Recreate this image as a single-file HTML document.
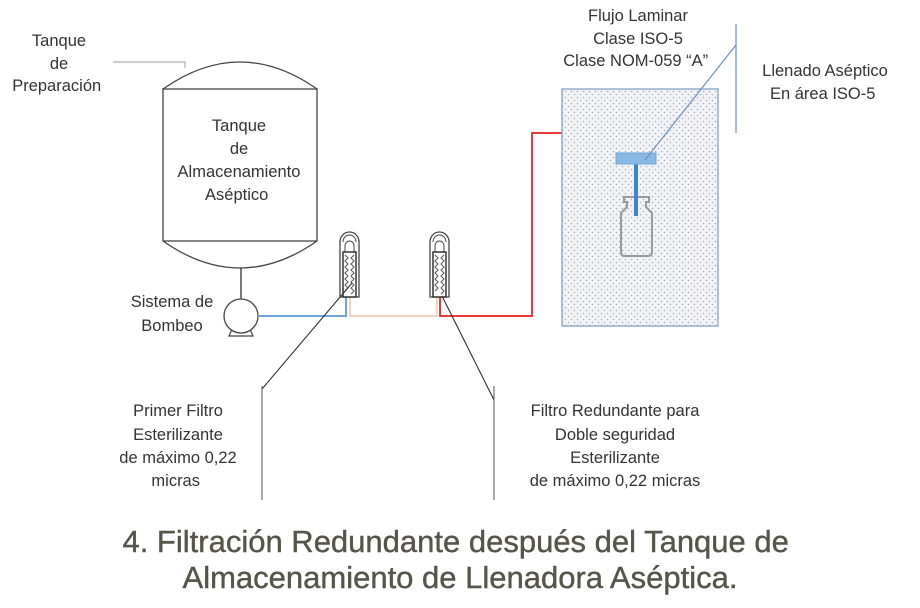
<!DOCTYPE html>
<html><head><meta charset="utf-8"><style>
body{margin:0;background:#fff;}
svg{display:block;}
text{font-family:"Liberation Sans",sans-serif;}
</style></head><body>
<svg width="920" height="608" viewBox="0 0 920 608" xmlns="http://www.w3.org/2000/svg">
<defs>
<pattern id="dots" width="6" height="6" patternUnits="userSpaceOnUse">
<rect width="6" height="6" fill="#f1f3f6"/>
<circle cx="1.5" cy="1.5" r="0.8" fill="#a9aeb8"/>
<circle cx="4.5" cy="4.5" r="0.8" fill="#a9aeb8"/>
</pattern>
<g id="filt">
<path d="M0,67 V12 A9.5,10 0 0 1 19,12 V67 Z" fill="#fff" stroke="#444" stroke-width="1.3"/>
<path d="M3,12 A6.5,7 0 0 1 16,12" fill="none" stroke="#444" stroke-width="1"/>
<path d="M5,22 V16 A4.5,5 0 0 1 14,16 V22" fill="none" stroke="#444" stroke-width="1"/>
<rect x="3" y="22" width="13" height="45" fill="#fff" stroke="#333" stroke-width="1.5"/>
<path d="M5,25 l3,3 -3,3 3,3 -3,3 3,3 -3,3 3,3 -3,3 3,3 -3,3 3,3 -3,3 M14,25 l-3,3 3,3 -3,3 3,3 -3,3 3,3 -3,3 3,3 -3,3 3,3 -3,3 3,3 -3,3" fill="none" stroke="#555" stroke-width="1"/>
</g>
</defs>
<path d="M163,89 Q240,35 317,89" fill="#fff" stroke="#444" stroke-width="1.3"/>
<path d="M163,241 Q240,295 317,241" fill="#fff" stroke="#444" stroke-width="1.3"/>
<rect x="163" y="89" width="154" height="152" fill="#fff" stroke="#444" stroke-width="1.3"/>
<polyline points="113,62 185,62 185,68" fill="none" stroke="#999" stroke-width="1"/>
<text font-size="16.5" fill="#333" text-anchor="middle">
<tspan x="59" y="46">Tanque</tspan><tspan x="59" y="69">de</tspan><tspan x="59" y="91">Preparación</tspan>
<tspan x="239" y="131">Tanque</tspan><tspan x="239" y="154">de</tspan><tspan x="239" y="177">Almacenamiento</tspan><tspan x="239" y="200">Aséptico</tspan>
<tspan x="172" y="307">Sistema de</tspan><tspan x="172" y="331">Bombeo</tspan>
</text>
<line x1="241" y1="268" x2="241" y2="299" stroke="#333" stroke-width="1.3"/>
<path d="M229,336 L233,327 H249 L253,336 Z" fill="#fff" stroke="#444" stroke-width="1.2"/>
<circle cx="241" cy="316" r="17" fill="#fff" stroke="#444" stroke-width="1.3"/>
<polyline points="258,316 346,316 346,297" fill="none" stroke="#6fa3d8" stroke-width="2"/>
<polyline points="350,297 350,316 437,316 437,297" fill="none" stroke="#f6d3be" stroke-width="2"/>
<polyline points="440,297 440,316 532,316 532,133 636,133 636,153" fill="none" stroke="#e83838" stroke-width="2"/>
<use href="#filt" x="340" y="230"/>
<use href="#filt" x="430" y="230"/>
<rect x="562" y="89" width="156" height="237" fill="url(#dots)" stroke="#7b98c4" stroke-width="1.2"/>
<path d="M627,197 H624 V202 H627 V207 L621,213 V252 Q621,256 625,256 H648 Q652,256 652,252 V213 L646,207 V202 H649 V197 H627" fill="none" stroke="#999" stroke-width="2"/>
<rect x="634" y="164" width="4" height="52" fill="#3f84cc"/>
<rect x="616" y="153" width="40" height="11" fill="#8ab9e3" stroke="#6fa3d8" stroke-width="1"/>
<line x1="736" y1="24" x2="736" y2="133" stroke="#6b8fbd" stroke-width="1.2"/>
<line x1="736" y1="45" x2="645" y2="160" stroke="#6b8fbd" stroke-width="1.2"/>
<text font-size="16.5" fill="#333" text-anchor="middle">
<tspan x="638" y="21">Flujo Laminar</tspan><tspan x="638" y="44">Clase ISO-5</tspan><tspan x="638" y="66">Clase NOM-059 “A”</tspan>
<tspan x="825" y="76">Llenado Aséptico</tspan><tspan x="825" y="99">En área ISO-5</tspan>
<tspan x="178" y="416">Primer Filtro</tspan><tspan x="178" y="440">Esterilizante</tspan><tspan x="178" y="463">de máximo 0,22</tspan><tspan x="178" y="486">micras</tspan>
<tspan x="615" y="416">Filtro Redundante para</tspan><tspan x="615" y="440">Doble seguridad</tspan><tspan x="615" y="463">Esterilizante</tspan><tspan x="615" y="486">de máximo 0,22 micras</tspan>
</text>
<line x1="352" y1="283" x2="262" y2="389" stroke="#333" stroke-width="1.1"/>
<line x1="262" y1="386" x2="262" y2="500" stroke="#555" stroke-width="1"/>
<line x1="442" y1="296" x2="494" y2="400" stroke="#333" stroke-width="1.1"/>
<line x1="494" y1="386" x2="494" y2="500" stroke="#555" stroke-width="1"/>
<text font-size="31" fill="#57544a" text-anchor="middle" stroke="#57544a" stroke-width="0.4">
<tspan x="460" y="552">4. Filtración Redundante después del Tanque de</tspan>
<tspan x="460" y="588">Almacenamiento de Llenadora Aséptica.</tspan>
</text>
</svg>
</body></html>
